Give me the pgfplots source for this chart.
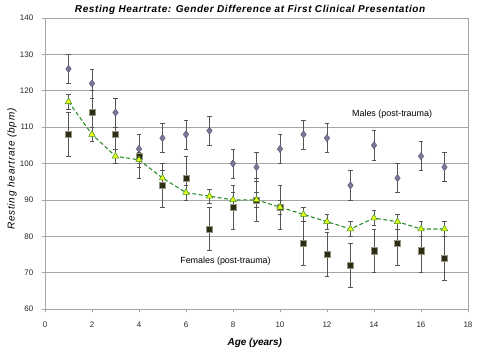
\documentclass[border=0pt]{standalone}
\usepackage{fontspec}
\setmainfont{Liberation Sans}
\usepackage{pgfplots}
\usepackage{pgfplotstable}
\pgfplotsset{compat=1.18}
\definecolor{malefill}{RGB}{122,122,152}
\definecolor{maledraw}{RGB}{95,95,125}
\definecolor{femfill}{RGB}{45,45,22}
\definecolor{femdraw}{RGB}{150,150,130}
\definecolor{trifill}{RGB}{232,255,20}
\definecolor{tridraw}{RGB}{70,150,40}
\definecolor{linegreen}{RGB}{40,140,40}
\definecolor{errcol}{RGB}{85,85,85}
\definecolor{gridcol}{RGB}{165,165,165}

\pgfplotstableread{
x y e
1 126 4
2 122 4
3 114 4
4 104 4
5 107 4
6 108 4
7 109 4
8 100 4
9 99 4
10 104 4
11 108 4
12 107 4
13 94 4
14 105 4
15 96 4
16 102 4
17 99 4
}\males
\pgfplotstableread{
x y e
1 108 6
2 114 6
3 108 6
4 102 6
5 94 6
6 96 6
7 82 6
8 88 6
9 90 6
10 88 6
11 78 6
12 75 6
13 72 6
14 76 6
15 78 6
16 76 6
17 74 6
}\females
\pgfplotstableread{
x y e
1 117 2
2 108 2
3 102 2
4 101 2
5 96 2
6 92 2
7 91 2
8 90 2
9 90 2
10 88 2
11 86 2
12 84 2
13 82 2
14 85 2
15 84 2
16 82 2
17 82 2
}\combined

\begin{document}
\begin{tikzpicture}
\path[use as bounding box] (-33.75pt,-34.5pt) rectangle (326.25pt,231.75pt);
\begin{axis}[
  at={(0,0)}, anchor=south west,
  scale only axis,
  width=317.25pt, height=218.25pt,
  xmin=0, xmax=18, ymin=60, ymax=140,
  xtick={0,2,...,18}, ytick={60,70,...,140},
  ymajorgrids,
  grid style={gridcol, line width=0.5pt},
  axis line style={gridcol, line width=0.6pt},
  tick style={gridcol, line width=0.5pt},
  major tick length=2.25pt,
  tick align=outside,
  tick pos=left,
  /pgf/number format/assume math mode=true,
  tick label style={font=\fontsize{6}{7}\selectfont, text=black!85},
  yticklabel style={xshift=-3pt},
  xticklabel style={yshift=-4pt},
  ylabel={Resting heartrate (bpm)},
  ylabel style={font=\fontsize{7.5}{9}\selectfont\itshape\addfontfeature{LetterSpace=8}, at={(axis description cs:0,0.481)}, anchor=center, yshift=24.75pt},
  xlabel={Age (years)},
  xlabel style={font=\fontsize{7.5}{9}\selectfont\bfseries\itshape, at={(axis description cs:0.496,0)}, anchor=center, yshift=-25.5pt},
  clip=false,
]
\addplot[only marks, mark=diamond*, mark size=2.7pt,
  mark options={fill=malefill, draw=maledraw, line width=0.4pt},
  error bars/.cd, y dir=both, y explicit,
  error bar style={errcol, line width=0.5pt},
  error mark options={errcol, mark size=1.6pt, line width=0.5pt, rotate=90}]
  table[x=x, y=y, y error=e] {\males};
\addplot[only marks, mark=square*, mark size=2.3pt,
  mark options={fill=femfill, draw=femdraw, line width=0.4pt},
  error bars/.cd, y dir=both, y explicit,
  error bar style={errcol, line width=0.5pt},
  error mark options={errcol, mark size=1.6pt, line width=0.5pt, rotate=90}]
  table[x=x, y=y, y error=e] {\females};
\addplot[linegreen, line width=0.8pt, dash pattern=on 3pt off 1.8pt,
  mark=triangle*, mark size=2.8pt,
  mark options={solid, fill=trifill, draw=tridraw, line width=0.4pt},
  error bars/.cd, y dir=both, y explicit,
  error bar style={errcol, line width=0.5pt, solid},
  error mark options={errcol, mark size=1.6pt, line width=0.5pt, rotate=90, solid}]
  table[x=x, y=y, y error=e] {\combined};
\node[font=\fontsize{6.7}{8}\selectfont, anchor=center] at (axis cs:14.77,113.5) {Males (post-trauma)};
\node[font=\fontsize{6.7}{8}\selectfont, anchor=center] at (axis cs:7.68,73.2) {Females (post-trauma)};
\node[font=\fontsize{7.5}{9}\selectfont\bfseries\itshape\addfontfeature{LetterSpace=6}, anchor=center, yshift=6pt] at (axis description cs:0.485,1) {Resting Heartrate: Gender Difference at First Clinical Presentation};
\end{axis}
\end{tikzpicture}
\end{document}
